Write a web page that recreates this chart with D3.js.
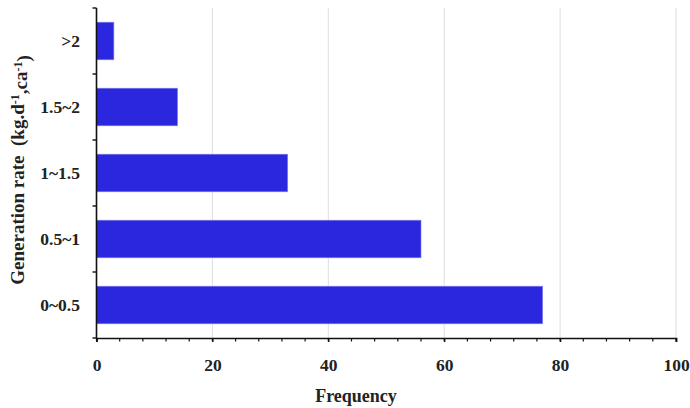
<!DOCTYPE html>
<html>
<head>
<meta charset="utf-8">
<script src="https://cdn.jsdelivr.net/npm/d3@7"></script>
<style>
  html, body { margin: 0; padding: 0; background: #fff; }
  svg text { font-family: "Liberation Serif", "Times New Roman", serif; font-weight: bold; fill: #222; }
</style>
</head>
<body>
<svg id="chart" width="690" height="408"></svg>
<script>
// Generation-rate classes (top to bottom) and their frequencies
const categories = [">2", "1.5~2", "1~1.5", "0.5~1", "0~0.5"];
const frequencies = [3, 14, 33, 56, 77];
const xTicks = [0, 20, 40, 60, 80, 100];
const xMinorTicks = d3.range(0, 101, 4);

const margin = { left: 96.5, right: 14, top: 8, bottom: 70 };
const width = 690, height = 408;

const svg = d3.select("#chart");

const x = d3.scaleLinear().domain([0, 100]).range([margin.left, width - margin.right]);
const y = d3.scaleBand().domain(categories).range([margin.top, height - margin.bottom])
  .paddingInner(0.43).paddingOuter(0.215);

const plotBottom = height - margin.bottom;

// vertical gridlines
svg.append("g")
  .selectAll("line")
  .data(xTicks.filter(d => d > 0))
  .join("line")
  .attr("x1", d => x(d)).attr("x2", d => x(d))
  .attr("y1", margin.top).attr("y2", plotBottom)
  .attr("stroke", "#dedede").attr("stroke-width", 1);

// bars
svg.append("g")
  .selectAll("rect")
  .data(categories)
  .join("rect")
  .attr("x", x(0))
  .attr("y", d => y(d))
  .attr("width", (d, i) => x(frequencies[i]) - x(0))
  .attr("height", y.bandwidth())
  .attr("fill", "#2a27de")
  .attr("stroke", "#8a88ee")
  .attr("stroke-width", 0.6);

// minor ticks on x axis
svg.append("g")
  .selectAll("line")
  .data(xMinorTicks)
  .join("line")
  .attr("x1", d => x(d)).attr("x2", d => x(d))
  .attr("y1", plotBottom).attr("y2", plotBottom + 3.5)
  .attr("stroke", "#111").attr("stroke-width", 1.2);

// x axis
const xAxis = svg.append("g")
  .attr("transform", `translate(0,${plotBottom})`)
  .call(d3.axisBottom(x).tickValues(xTicks).tickSize(4).tickPadding(17).tickFormat(d3.format("d")));
xAxis.select(".domain").attr("stroke", "#111").attr("stroke-width", 1.6);
xAxis.selectAll(".tick line").attr("stroke", "#111").attr("stroke-width", 1.4);
xAxis.selectAll(".tick text").style("font-size", "17.5px").attr("fill", "#222");

// y axis: ticks sit on band boundaries
const bandEdges = categories.map(c => y(c) - y.step() * y.paddingInner() / 2);
bandEdges.push(plotBottom);
const yAxisG = svg.append("g");
yAxisG.append("line")
  .attr("x1", x(0)).attr("x2", x(0))
  .attr("y1", margin.top).attr("y2", plotBottom)
  .attr("stroke", "#111").attr("stroke-width", 1.6);
yAxisG.selectAll("line.tk")
  .data(bandEdges)
  .join("line")
  .attr("class", "tk")
  .attr("x1", x(0) - 4).attr("x2", x(0))
  .attr("y1", d => d).attr("y2", d => d)
  .attr("stroke", "#111").attr("stroke-width", 1.4);
yAxisG.selectAll("text")
  .data(categories)
  .join("text")
  .attr("x", 80)
  .attr("y", d => y(d) + y.bandwidth() / 2)
  .attr("dy", "0.35em")
  .attr("text-anchor", "end")
  .style("font-size", "17.5px")
  .text(d => d);

// axis titles
svg.append("text")
  .attr("x", 356)
  .attr("y", 402)
  .attr("text-anchor", "middle")
  .style("font-size", "18px")
  .text("Frequency");

const yTitle = svg.append("text")
  .attr("transform", `translate(24,${(margin.top + plotBottom) / 2 - 3}) rotate(-90)`)
  .attr("text-anchor", "middle")
  .style("font-size", "19px")
  .style("white-space", "pre");
yTitle.append("tspan").text("Generation rate  (kg.d");
yTitle.append("tspan").attr("dy", "-0.45em").style("font-size", "12px").text("-1");
yTitle.append("tspan").attr("dy", "0.45em").text(",ca");
yTitle.append("tspan").attr("dy", "-0.45em").style("font-size", "12px").text("-1");
yTitle.append("tspan").attr("dy", "0.45em").text(")");
</script>
</body>
</html>
